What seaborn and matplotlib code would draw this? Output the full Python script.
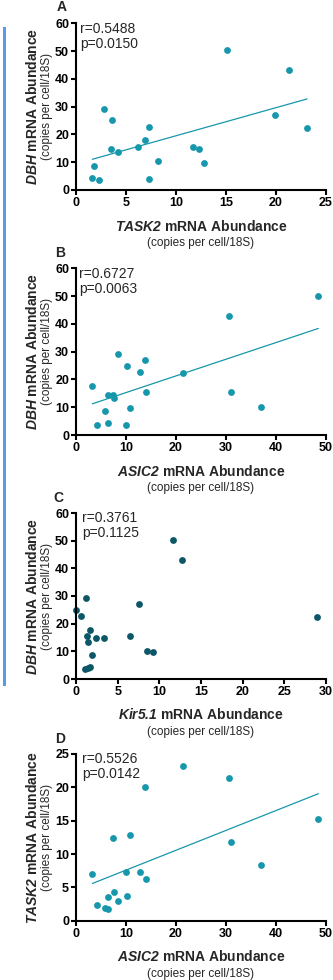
import matplotlib
matplotlib.use("Agg")
import matplotlib.pyplot as plt
from matplotlib.patches import Rectangle
import seaborn as sns
import numpy as np

# ---------------- data ----------------
# Panel A: TASK2 (x) vs DBH (y)
a_task2 = [1.83, 1.63, 2.26, 2.83, 3.62, 3.46, 4.16, 6.15, 6.91, 7.25, 7.25, 8.21,
           11.7, 12.27, 12.8, 15.06, 19.9, 21.3, 23.1]
a_dbh = [8.76, 4.4, 3.6, 29.3, 25.1, 14.6, 13.6, 15.6, 17.9, 22.7, 3.84, 10.3,
         15.6, 14.6, 9.7, 50.3, 27.0, 43.1, 22.3]
# Panel B: ASIC2 (x) vs DBH (y)
b_asic2 = [3.27, 4.13, 5.87, 6.47, 6.33, 7.47, 7.6, 8.33, 10.27, 9.93, 10.87, 12.87,
           13.73, 13.93, 21.47, 30.67, 31.0, 36.93, 48.47]
b_dbh = [17.8, 3.5, 8.76, 4.2, 14.4, 14.4, 13.4, 29.2, 25.0, 3.6, 9.6, 22.6,
         27.0, 15.5, 22.2, 43.0, 15.4, 10.1, 50.2]
# Panel C: Kir5.1 (x) vs DBH (y)
c_kir = [0.0, 0.64, 1.24, 1.36, 1.4, 1.68, 1.96, 1.12, 1.44, 1.68, 2.4, 3.4,
         6.48, 7.6, 8.48, 9.28, 11.6, 12.76, 28.96]
c_dbh = [25.1, 22.7, 29.3, 15.4, 13.5, 17.8, 8.8, 3.5, 3.9, 4.2, 14.7, 14.7,
         15.4, 27.1, 10.2, 9.6, 50.4, 43.1, 22.3]
# Panel D: ASIC2 (x) vs TASK2 (y)
d_asic2 = [3.27, 4.13, 5.87, 6.47, 6.33, 7.53, 7.4, 8.33, 9.93, 10.27, 10.87, 12.87,
           13.73, 13.93, 21.47, 30.67, 31.0, 36.93, 48.47]
d_task2 = [7.05, 2.35, 1.9, 1.7, 3.55, 4.25, 12.35, 3.0, 7.35, 3.75, 12.9, 7.35,
           20.05, 6.25, 23.25, 21.35, 11.8, 8.35, 15.2]

panel_letters = ["A", "B", "C", "D"]
r_texts = ["r=0.5488", "r=0.6727", "r=0.3761", "r=0.5526"]
p_texts = ["p=0.0150", "p=0.0063", "p=0.1125", "p=0.0142"]
x_genes = ["TASK2", "ASIC2", "Kir5.1", "ASIC2"]
y_genes = ["DBH", "DBH", "DBH", "TASK2"]
x_limits = [(0, 25), (0, 50), (0, 30), (0, 50)]
y_limits = [(0, 60), (0, 60), (0, 60), (0, 25)]
x_tick_vals = [[0, 5, 10, 15, 20, 25], [0, 10, 20, 30, 40, 50],
               [0, 5, 10, 15, 20, 25, 30], [0, 10, 20, 30, 40, 50]]
y_tick_vals = [[0, 10, 20, 30, 40, 50, 60]] * 3 + [[0, 5, 10, 15, 20, 25]]
show_fit = [True, True, False, True]

xs = [a_task2, b_asic2, c_kir, d_asic2]
ys = [a_dbh, b_dbh, c_dbh, d_task2]

# ---------------- style ----------------
sns.set_theme(style="ticks")
plt.rcParams["font.family"] = ["Liberation Sans", "DejaVu Sans"]
plt.rcParams["mathtext.fontset"] = "custom"
plt.rcParams["mathtext.it"] = "Liberation Sans:italic:bold"
plt.rcParams["mathtext.rm"] = "Liberation Sans:italic:bold"
plt.rcParams["mathtext.bf"] = "Liberation Sans:italic:bold"

TEAL = "#1797ab"
DARK = "#0b5667"
colors = [TEAL, TEAL, DARK, TEAL]

W, H = 333, 980
fig = plt.figure(figsize=(W / 100, H / 100), dpi=100)

# axes boxes in pixel coords (left, top, right, bottom)
boxes = [(76, 23.3, 326, 190), (76, 268.3, 326, 435),
         (76, 513, 326, 679), (76, 754, 326, 920.7)]
letter_pos = [(-0.056, 1.096), (-0.064, 1.093), (-0.072, 1.093), (-0.064, 1.09)]
annot_x = [0.016, 0.012, 0.023, 0.023]

for i in range(4):
    l, t, r, b = boxes[i]
    ax = fig.add_axes([l / W, 1 - b / H, (r - l) / W, (b - t) / H])
    if show_fit[i]:
        sns.regplot(x=np.array(xs[i]), y=np.array(ys[i]), ax=ax, ci=None,
                    color=colors[i],
                    scatter_kws=dict(s=24, linewidths=0, clip_on=False, alpha=1),
                    line_kws=dict(lw=0.9))
    else:
        sns.scatterplot(x=np.array(xs[i]), y=np.array(ys[i]), ax=ax,
                        color=colors[i], s=24, linewidth=0, clip_on=False)
    ax.set_xlim(*x_limits[i])
    ax.set_ylim(*y_limits[i])
    ax.set_xticks(x_tick_vals[i])
    ax.set_yticks(y_tick_vals[i])
    ax.set_xlabel("")
    ax.set_ylabel("")
    sns.despine(ax=ax)
    for s in ["left", "bottom"]:
        ax.spines[s].set_linewidth(1.5)
        ax.spines[s].set_color("black")
    ax.tick_params(axis="both", direction="out", length=3.5, width=1.5,
                   colors="black", labelsize=9, pad=1.5)
    for lab in ax.get_xticklabels() + ax.get_yticklabels():
        lab.set_fontweight("bold")

    # labels
    ax.text(-0.172, 0.5, r"$\mathit{" + y_genes[i] + "}$ mRNA Abundance",
            transform=ax.transAxes, rotation=90, ha="center", va="center",
            fontsize=10, fontweight="bold")
    ax.text(-0.116, 0.5, "(copies per cell/18S)", transform=ax.transAxes,
            rotation=90, ha="center", va="center", fontsize=8.5)
    ax.text(0.5, -0.216, r"$\mathit{" + x_genes[i] + "}$ mRNA Abundance",
            transform=ax.transAxes, ha="center", va="center",
            fontsize=10, fontweight="bold")
    ax.text(0.5, -0.318, "(copies per cell/18S)", transform=ax.transAxes,
            ha="center", va="center", fontsize=8.5)
    ax.text(letter_pos[i][0], letter_pos[i][1], panel_letters[i],
            transform=ax.transAxes, ha="center", va="center",
            fontsize=10, fontweight="bold")
    ax.text(annot_x[i], 0.968, r_texts[i], transform=ax.transAxes,
            ha="left", va="center", fontsize=10)
    ax.text(annot_x[i], 0.878, p_texts[i], transform=ax.transAxes,
            ha="left", va="center", fontsize=10)

# blue side bar
fig.add_artist(Rectangle((3 / W, 1 - 686 / H), 3 / W, (686 - 27) / H,
                         transform=fig.transFigure, color="#5b9be6", lw=0))

fig.savefig("out.png", dpi=100)
